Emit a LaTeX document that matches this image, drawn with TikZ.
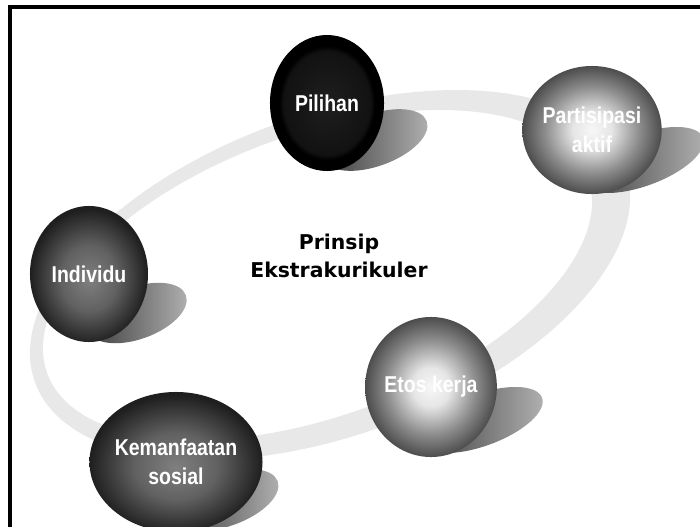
\documentclass[tikz,border=0pt]{standalone}
\usepackage{fontspec}
\usetikzlibrary{shapes.geometric,backgrounds}
\newfontfamily\ballfont[FakeStretch=0.85]{Liberation Sans Bold}
\newfontfamily\titlefont{DejaVu Sans Bold}

\pgfdeclareradialshading{lightball}{\pgfpoint{0bp}{0bp}}{color(0bp)=(black!3); color(7bp)=(black!10); color(17bp)=(black!45); color(25bp)=(black!70); color(50bp)=(black!70)}
\pgfdeclareradialshading{darkball}{\pgfpoint{0bp}{-2bp}}{color(0bp)=(black!50); color(12bp)=(black!62); color(25bp)=(black!88); color(50bp)=(black!88)}
\pgfdeclareradialshading{blackball}{\pgfpoint{0bp}{0bp}}{color(0bp)=(black!88); color(19bp)=(black!93); color(21bp)=(black); color(50bp)=(black)}

\tikzset{
  ball/.style={ellipse, shade, inner sep=0pt, text=white, align=center,
    font=\ballfont\fontsize{16.3}{21}\selectfont},
  blob/.style={left color=black!78, right color=black!30},
  ringfill/.style={fill=gray!18, even odd rule}
}

\begin{document}
\begin{tikzpicture}[x=0.025cm, y=-0.025cm]
        \useasboundingbox (0,0) rectangle (700,527);
        \node[ball, shading=blackball, minimum width=2.85cm, minimum height=3.4cm] (pilihan) at (327,103) {Pilihan};
        \node[ball, shading=lightball, minimum width=3.1cm, minimum height=3.2cm] (partisipasi) at (592,130) {Partisipasi\\aktif};
        \node[ball, shading=darkball, minimum width=2.95cm, minimum height=3.4cm] (individu) at (89,274) {Individu};
        \node[ball, shading=darkball, minimum width=3.15cm, minimum height=3.5cm] (manfaat) at (176,462) {Kemanfaatan\\sosial};
        \node[ball, shading=lightball, minimum width=2.95cm, minimum height=3.5cm] (etos) at (431,387) {Etos kerja};
        \node[font=\titlefont\fontsize{14.5}{20}\selectfont, align=center] (prinsip) at (339,256) {Prinsip\\Ekstrakurikuler};
        \begin{pgfonlayer}{background}
            \fill[white] (0,0) rectangle (700,527);
            \path[ringfill] (330,275) ellipse [x radius=313.9, y radius=160.3, rotate=20]
                (317.5,275) ellipse [x radius=287.6, y radius=141, rotate=20];
            \shade[blob] ([shift={(48,37)}]pilihan.center) ellipse [x radius=55, y radius=26, rotate=20];
            \shade[blob] ([shift={(50,30)}]partisipasi.center) ellipse [x radius=65, y radius=26, rotate=20];
            \shade[blob] ([shift={(48,39)}]individu.center) ellipse [x radius=52, y radius=26, rotate=20];
            \shade[blob] ([shift={(50,38)}]manfaat.center) ellipse [x radius=55, y radius=26, rotate=20];
            \shade[blob] ([shift={(50,33)}]etos.center) ellipse [x radius=65, y radius=26, rotate=20];
        \end{pgfonlayer}
        \draw[line width=2.2pt] (10,527) -- (10,7) -- (700,7);
    \end{tikzpicture}
\end{document}
